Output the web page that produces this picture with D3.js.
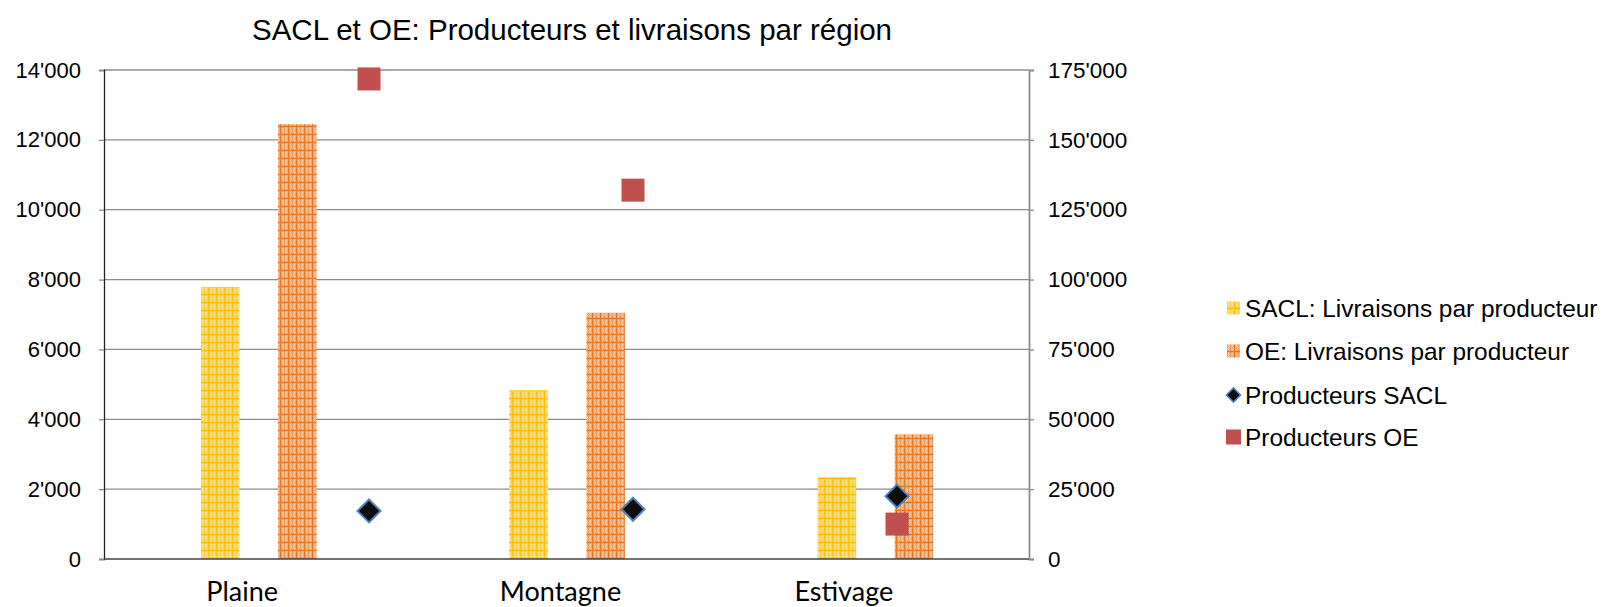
<!DOCTYPE html>
<html>
<head>
<meta charset="utf-8">
<script src="https://cdn.jsdelivr.net/npm/d3@7/dist/d3.min.js"></script>
<style>
  html, body { margin: 0; padding: 0; background: #fff; }
  svg { display: block; }
</style>
</head>
<body>
<svg id="chart" width="1602" height="607"></svg>
<script>
// ---- Data ----
const categories = ["Plaine", "Montagne", "Estivage"];
const barSeries = ["SACL: Livraisons par producteur", "OE: Livraisons par producteur"];
const saclLivraisons = [7790, 4830, 2340];
const oeLivraisons = [12450, 7050, 3570];
const producteursSACL = [17200, 17800, 22500];
const producteursOE = [171800, 132000, 12500];
const leftTicks = [0, 2000, 4000, 6000, 8000, 10000, 12000, 14000];
const rightTicks = [0, 25000, 50000, 75000, 100000, 125000, 150000, 175000];
const legendLabels = ["SACL: Livraisons par producteur", "OE: Livraisons par producteur", "Producteurs SACL", "Producteurs OE"];
const chartTitle = "SACL et OE: Producteurs et livraisons par région";

// ---- Layout ----
const margin = { left: 104, right: 573, top: 70, bottom: 48 };
const W = 1602, H = 607;
const plotW = W - margin.left - margin.right; // 925
const plotH = H - margin.top - margin.bottom; // 489
const labelDx = [-16, -6, -31];

const svg = d3.select("#chart");

// patterns
const defs = svg.append("defs");
function makePattern(id, base, light, line) {
  const p = defs.append("pattern").attr("id", id).attr("patternUnits", "userSpaceOnUse")
    .attr("width", 8).attr("height", 8);
  p.append("rect").attr("width", 8).attr("height", 8).attr("fill", base);
  for (let i = 0; i < 8; i++) for (let j = 0; j < 8; j++) {
    if ((i + j) % 2 === 0 && i > 1 && j > 1 && i < 7 && j < 7)
      p.append("rect").attr("x", i).attr("y", j).attr("width", 1).attr("height", 1).attr("fill", light);
  }
  p.append("rect").attr("x", 0).attr("y", 0).attr("width", 8).attr("height", 1).attr("fill", line);
  p.append("rect").attr("x", 0).attr("y", 0).attr("width", 1).attr("height", 8).attr("fill", line);
  p.append("rect").attr("x", 4).attr("y", 0).attr("width", 1).attr("height", 8).attr("fill", line).attr("opacity", 0.5);
}
makePattern("patSACL", "#ffd34f", "#ffeaa0", "#ffbf00");
makePattern("patOE", "#f6a870", "#fbd0ae", "#e8731a");

const g = svg.append("g").attr("transform", `translate(${margin.left},${margin.top})`);

const x0 = d3.scaleBand().domain(categories).range([0, plotW]).paddingInner(0).paddingOuter(0);
const x1 = d3.scaleBand().domain(barSeries).range([97, 212.5]).paddingInner(0.5).paddingOuter(0);
const xm = d3.scalePoint().domain(categories).range([265, 793]);
const yL = d3.scaleLinear().domain([0, 14000]).range([plotH, 0]);
const yR = d3.scaleLinear().domain([0, 175000]).range([plotH, 0]);

const fmt = v => d3.format(",")(v).replace(/,/g, "'");

// gridlines
g.append("g").selectAll("line").data(leftTicks.slice(1)).join("line")
  .attr("x1", 0).attr("x2", plotW)
  .attr("y1", d => yL(d)).attr("y2", d => yL(d))
  .attr("stroke", "#8c8c8c").attr("stroke-width", 1.3);

// bars
const barData = [];
categories.forEach((c, i) => {
  barData.push({ cat: c, s: barSeries[0], v: saclLivraisons[i], fill: "url(#patSACL)" });
  barData.push({ cat: c, s: barSeries[1], v: oeLivraisons[i], fill: "url(#patOE)" });
});
g.append("g").selectAll("rect").data(barData).join("rect")
  .attr("x", d => x0(d.cat) + x1(d.s))
  .attr("width", x1.bandwidth())
  .attr("y", d => yL(d.v))
  .attr("height", d => plotH - yL(d.v))
  .attr("fill", d => d.fill);

// axes
const leftAxis = d3.axisLeft(yL).tickValues(leftTicks).tickFormat(fmt).tickSize(5).tickPadding(18);
const la = g.append("g").call(leftAxis);
la.select(".domain").attr("stroke", "#222").attr("stroke-width", 1.3);
la.selectAll(".tick line").attr("stroke", "#8c8c8c").attr("stroke-width", 1.3);
la.selectAll("text").attr("font-family", "Liberation Sans, Arial, sans-serif").attr("font-size", 22).attr("fill", "#000");

const rightAxis = d3.axisRight(yR).tickValues(rightTicks).tickFormat(fmt).tickSize(5).tickPadding(14);
const ra = g.append("g").attr("transform", `translate(${plotW},0)`).call(rightAxis);
ra.select(".domain").attr("stroke", "#8c8c8c").attr("stroke-width", 1.8);
ra.selectAll(".tick line").attr("stroke", "#8c8c8c").attr("stroke-width", 1.3);
ra.selectAll("text").attr("font-family", "Liberation Sans, Arial, sans-serif").attr("font-size", 22.5).attr("fill", "#000");

// bottom axis line
g.append("line").attr("x1", 0).attr("x2", plotW).attr("y1", plotH).attr("y2", plotH)
  .attr("stroke", "#444").attr("stroke-width", 1.3);

// category labels
g.append("g").selectAll("text").data(categories).join("text")
  .attr("x", (d, i) => x0(d) + x0.bandwidth() / 2 + labelDx[i])
  .attr("y", plotH + 42)
  .attr("text-anchor", "middle")
  .attr("font-family", "Lato, 'Open Sans', sans-serif")
  .attr("font-size", 27)
  .attr("fill", "#000")
  .text(d => d);

// markers: SACL producers (diamond)
const diamond = r => `M0,${-r}L${r},0L0,${r}L${-r},0Z`;
g.append("g").selectAll("path").data(producteursSACL).join("path")
  .attr("transform", (d, i) => `translate(${xm(categories[i])},${yR(d)})`)
  .attr("d", diamond(11.5))
  .attr("fill", "#0d0d0d").attr("stroke", "#4f81bd").attr("stroke-width", 2);

// markers: OE producers (square)
g.append("g").selectAll("rect").data(producteursOE).join("rect")
  .attr("x", (d, i) => xm(categories[i]) - 11.5)
  .attr("y", d => yR(d) - 11.5)
  .attr("width", 23).attr("height", 23)
  .attr("fill", "#c0504d");

// title
svg.append("text").attr("x", 572).attr("y", 40).attr("text-anchor", "middle")
  .attr("font-family", "Liberation Sans, Arial, sans-serif").attr("font-size", 29.5).attr("fill", "#000")
  .text(chartTitle);

// legend
const lg = svg.append("g").attr("transform", "translate(1226,0)");
const legendY = [308, 351, 395, 437];
legendLabels.forEach((lab, i) => {
  const row = lg.append("g").attr("transform", `translate(0,${legendY[i]})`);
  if (i === 0) row.append("rect").attr("x", 1).attr("y", -6.5).attr("width", 13).attr("height", 13).attr("fill", "url(#patSACL)");
  if (i === 1) row.append("rect").attr("x", 1).attr("y", -6.5).attr("width", 13).attr("height", 13).attr("fill", "url(#patOE)");
  if (i === 2) row.append("path").attr("transform", "translate(7.5,0)").attr("d", diamond(7))
      .attr("fill", "#0d0d0d").attr("stroke", "#4f81bd").attr("stroke-width", 1.6);
  if (i === 3) row.append("rect").attr("x", 0).attr("y", -7.5).attr("width", 15).attr("height", 15).attr("fill", "#c0504d");
  row.append("text").attr("x", 19).attr("y", 0).attr("dy", "0.35em")
    .attr("font-family", "Liberation Sans, Arial, sans-serif").attr("font-size", 24.4).attr("fill", "#000")
    .text(lab);
});
</script>
</body>
</html>
